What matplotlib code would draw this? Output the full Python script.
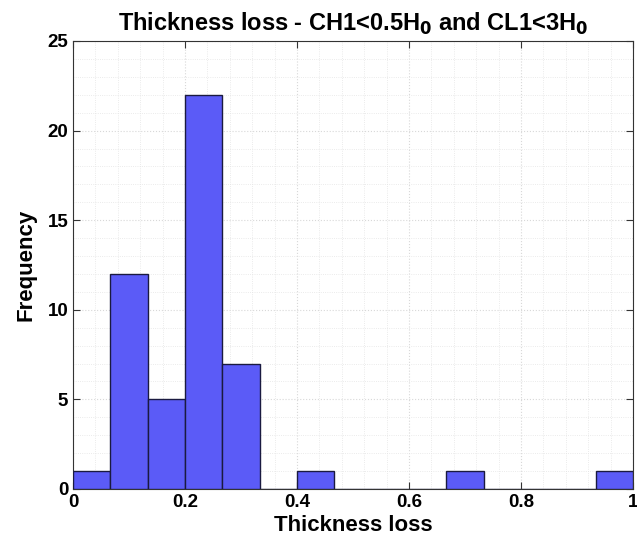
import matplotlib
matplotlib.use("Agg")
import matplotlib.pyplot as plt
from matplotlib.ticker import MultipleLocator

# histogram bins (15 equal bins from 0 to 1) and counts
bin_edges = [i / 15 for i in range(16)]
counts = [1, 12, 5, 22, 7, 0, 1, 0, 0, 0, 1, 0, 0, 0, 1]
x_ticks = [0, 0.2, 0.4, 0.6, 0.8, 1]
x_ticklabels = ['0', '0.2', '0.4', '0.6', '0.8', '1']

plt.rcParams['font.family'] = ['Liberation Sans', 'DejaVu Sans']
plt.rcParams['font.weight'] = 'bold'

fig = plt.figure(figsize=(6.37, 5.45), dpi=100)
ax = fig.add_axes([0.1146, 0.1028, 0.8791, 0.8220])

lefts = bin_edges[:-1]
widths = [bin_edges[i + 1] - bin_edges[i] for i in range(len(counts))]
ax.bar(lefts, counts, width=widths, align='edge', color='#5b5bf7',
       edgecolor='#1a1a40', linewidth=1.0, zorder=3)

ax.set_xlim(0, 1)
ax.set_ylim(0, 25)
ax.set_xticks(x_ticks)
ax.set_xticklabels(x_ticklabels)
ax.xaxis.set_minor_locator(MultipleLocator(0.04))
ax.yaxis.set_major_locator(MultipleLocator(5))
ax.yaxis.set_minor_locator(MultipleLocator(1))

ax.grid(which='major', color='#d8d8d8', linestyle=':', linewidth=0.8, zorder=0)
ax.grid(which='minor', color='#e4e4e4', linestyle=':', linewidth=0.6, zorder=0)
ax.tick_params(which='both', direction='in', top=True, right=True,
               labelsize=13.5, color='#333333')
ax.tick_params(which='minor', length=0)
ax.tick_params(which='major', length=5)
for s in ax.spines.values():
    s.set_color('#333333')
    s.set_linewidth(0.8)

ax.set_xlabel('Thickness loss', fontsize=16, fontweight='bold', labelpad=3)
ax.set_ylabel('Frequency', fontsize=16, fontweight='bold', labelpad=8)
ax.set_title(r'Thickness loss - CH1<0.5H$_\mathbf{0}$ and CL1<3H$_\mathbf{0}$',
             fontsize=17, fontweight='bold', pad=7)

fig.savefig('out.png', dpi=100)
